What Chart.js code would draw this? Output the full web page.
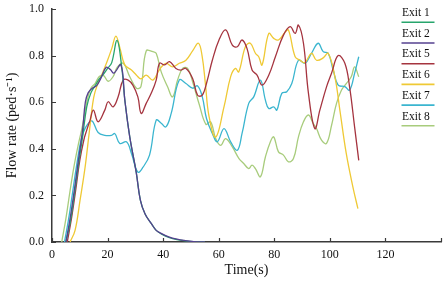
<!DOCTYPE html>
<html>
<head>
<meta charset="utf-8">
<script src="https://cdn.jsdelivr.net/npm/chart.js@4.4.0/dist/chart.umd.min.js"></script>
<style>
  body { margin: 0; background: #fff; }
  canvas { display: block; }
</style>
</head>
<body>
<canvas id="flowChart" width="447" height="283"></canvas>
<script>
// values (time in s, flow rate in ped/s)
const exitLabels = ['Exit 1', 'Exit 2', 'Exit 5', 'Exit 6', 'Exit 7', 'Exit 8'];
const exitColors = ['#27a56c', '#55408f', '#a5343f', '#efc935', '#3ab5cf', '#a8cc7c'];

const exit1T = [5, 6.5, 8, 9.5, 11, 12.5, 14, 15.5, 17, 18.5, 20, 21.5, 23.4, 25, 26.3, 28, 30.3, 31.8, 33.5, 35.7, 37.5, 39.3, 42, 45, 48, 51, 55];
const exit1V = [0, 0.08, 0.2, 0.33, 0.45, 0.58, 0.64, 0.67, 0.7, 0.72, 0.745, 0.77, 0.865, 0.76, 0.6, 0.45, 0.3, 0.18, 0.12, 0.08, 0.05, 0.035, 0.02, 0.01, 0.005, 0.002, 0];

const exit2T = [5, 6.5, 8, 9.5, 11, 12, 13, 14.5, 16, 17.5, 19.5, 21, 22.3, 24.8, 26.2, 28, 30.3, 31.8, 33.5, 35.7, 37.5, 39.3, 42, 45, 48, 51, 55];
const exit2V = [0, 0.1, 0.22, 0.35, 0.48, 0.6, 0.64, 0.66, 0.67, 0.7, 0.75, 0.74, 0.725, 0.76, 0.61, 0.45, 0.3, 0.18, 0.12, 0.08, 0.05, 0.037, 0.022, 0.012, 0.006, 0.002, 0];

const exit5T = [5.5, 7, 8.5, 10, 11.5, 12.5, 13.7, 14.9, 16.6, 19, 20.2, 22, 23.8, 25.6, 27.4, 29.1, 30.9, 32.1, 33.9, 35.7, 37.5, 38.7, 40.5, 42.3, 44.6, 46.4, 48.2, 50.6, 52.4, 54.1, 55.8, 57.7, 60.1, 62.5, 64.9, 66.7, 68.4, 70.2, 72, 73.8, 75.6, 78, 80.4, 83.3, 85.7, 87.5, 88.7, 90.5, 92.3, 94.6, 96.4, 98.8, 100.6, 103, 105.4, 107.1, 108.9, 110.4];
const exit5V = [0, 0.1, 0.22, 0.35, 0.44, 0.48, 0.523, 0.566, 0.516, 0.566, 0.602, 0.58, 0.623, 0.695, 0.695, 0.673, 0.623, 0.552, 0.595, 0.638, 0.695, 0.767, 0.76, 0.774, 0.745, 0.738, 0.745, 0.702, 0.63, 0.63, 0.69, 0.78, 0.867, 0.91, 0.845, 0.838, 0.867, 0.83, 0.738, 0.716, 0.673, 0.716, 0.795, 0.888, 0.924, 0.895, 0.931, 0.853, 0.638, 0.487, 0.566, 0.666, 0.724, 0.8, 0.767, 0.666, 0.494, 0.35];

const exit6T = [6.5, 8.3, 10.1, 11.9, 13.4, 15, 16.5, 18, 20, 21.5, 23, 24.5, 26.2, 28.6, 30.4, 32, 33.9, 36.3, 38.7, 41, 43.4, 45.8, 48.2, 50.6, 52.7, 54, 55.2, 56.5, 58.9, 61.9, 64.3, 66, 67.2, 69.6, 71.4, 73.2, 74.4, 75.6, 78, 79.8, 81.5, 83.9, 85.1, 87.5, 89.3, 91, 93.4, 95.2, 97.6, 99.4, 101.8, 103.6, 105.9, 108.3, 110.1];
const exit6V = [0, 0.05, 0.18, 0.32, 0.47, 0.62, 0.68, 0.72, 0.78, 0.83, 0.884, 0.83, 0.76, 0.738, 0.716, 0.7, 0.716, 0.695, 0.74, 0.767, 0.752, 0.767, 0.78, 0.82, 0.853, 0.8, 0.68, 0.54, 0.45, 0.58, 0.71, 0.745, 0.73, 0.838, 0.853, 0.81, 0.795, 0.76, 0.895, 0.874, 0.867, 0.9, 0.91, 0.795, 0.78, 0.77, 0.81, 0.78, 0.79, 0.81, 0.71, 0.566, 0.38, 0.236, 0.143];

const exit7T = [4.5, 6, 7.5, 9, 10.5, 12, 14.3, 16.6, 19, 21.4, 22.6, 24.4, 26.8, 28.6, 30.9, 32.7, 35.1, 37.5, 39.3, 41, 42.9, 45.8, 48.2, 50.6, 52.4, 54.1, 55.6, 57.7, 59.5, 61.9, 64.3, 66.7, 68.4, 70.8, 72.6, 75, 76.8, 78, 79.8, 80.9, 82.7, 84.5, 86.3, 88.7, 91.1, 93.4, 95.8, 97.6, 99.4, 101.2, 103, 105.4, 107.1, 108.9, 110.4];
const exit7V = [0, 0.1, 0.22, 0.34, 0.44, 0.49, 0.52, 0.47, 0.458, 0.458, 0.465, 0.423, 0.43, 0.38, 0.3, 0.32, 0.373, 0.523, 0.51, 0.494, 0.552, 0.695, 0.68, 0.66, 0.67, 0.623, 0.53, 0.466, 0.43, 0.487, 0.43, 0.394, 0.466, 0.595, 0.623, 0.695, 0.609, 0.573, 0.58, 0.566, 0.638, 0.645, 0.68, 0.78, 0.767, 0.81, 0.853, 0.817, 0.81, 0.738, 0.673, 0.667, 0.652, 0.724, 0.795];

const exit8T = [3.5, 5, 6.5, 8, 9.5, 11, 12.5, 14, 15.5, 17, 18.5, 20.2, 22, 23.5, 25.6, 28, 30.4, 32, 33.9, 36.3, 37.5, 39.3, 41.6, 43.4, 45.2, 47, 48.8, 50.6, 53, 55.4, 57.1, 58.9, 60.7, 62.5, 64.9, 67.3, 69, 70.8, 72, 73.2, 75, 76.8, 78.6, 79.8, 81.5, 83.3, 85.1, 86.9, 88.7, 90.5, 92.3, 94, 95.2, 97, 98.8, 100.6, 102.4, 104.2, 105.9, 107.7, 108.9, 110.4];
const exit8V = [0, 0.1, 0.22, 0.33, 0.42, 0.5, 0.6, 0.66, 0.68, 0.71, 0.715, 0.69, 0.71, 0.75, 0.767, 0.709, 0.66, 0.667, 0.82, 0.817, 0.81, 0.73, 0.666, 0.623, 0.695, 0.745, 0.745, 0.688, 0.59, 0.505, 0.516, 0.444, 0.415, 0.444, 0.408, 0.358, 0.337, 0.315, 0.33, 0.315, 0.28, 0.365, 0.43, 0.451, 0.387, 0.373, 0.344, 0.358, 0.451, 0.516, 0.545, 0.509, 0.487, 0.437, 0.423, 0.5, 0.595, 0.652, 0.68, 0.709, 0.752, 0.709];

const xTicks = [0, 20, 40, 60, 80, 100, 120, 140];
const yTicks = [0, 0.2, 0.4, 0.6, 0.8, 1.0];

const seriesT = [exit1T, exit2T, exit5T, exit6T, exit7T, exit8T];
const seriesV = [exit1V, exit2V, exit5V, exit6V, exit7V, exit8V];
// Exit 2 sits on top of Exit 1 where they share the decay
const drawOrder = [1, 0, 2, 3, 4, 5];

const serif = "'Liberation Serif', 'Times New Roman', serif";
const axisColor = '#3a3a3a';

function toPoints(ts, vs) {
  return ts.map((t, i) => ({ x: t, y: vs[i] }));
}

// little tick marks pointing into the plot, like the original
const innerTicks = {
  id: 'innerTicks',
  afterDraw(chart) {
    const { ctx, scales: { x, y } } = chart;
    ctx.save();
    ctx.strokeStyle = axisColor;
    ctx.lineWidth = 1.2;
    ctx.beginPath();
    xTicks.forEach(v => {
      const px = Math.round(x.getPixelForValue(v)) + 0.5;
      ctx.moveTo(px, y.bottom);
      ctx.lineTo(px, y.bottom - 4);
    });
    yTicks.forEach(v => {
      const py = Math.round(y.getPixelForValue(v)) + 0.5;
      ctx.moveTo(x.left, py);
      ctx.lineTo(x.left + 4, py);
    });
    ctx.stroke();
    ctx.restore();
  }
};

// legend on the right: label with a coloured line under it
const sideLegend = {
  id: 'sideLegend',
  afterDraw(chart) {
    const ctx = chart.ctx;
    ctx.save();
    ctx.font = '11.5px ' + serif;
    ctx.textBaseline = 'middle';
    ctx.textAlign = 'left';
    chart.data.datasets.forEach((ds, i) => {
      const top = 13 + i * 20.7;
      ctx.fillStyle = '#111';
      ctx.fillText(ds.label, 402, top);
      ctx.strokeStyle = ds.borderColor;
      ctx.lineWidth = 1.6;
      ctx.beginPath();
      ctx.moveTo(401.5, top + 9.3);
      ctx.lineTo(434.5, top + 9.3);
      ctx.stroke();
    });
    ctx.restore();
  }
};

const datasets = exitLabels.map((label, i) => ({
  label: label,
  data: toPoints(seriesT[i], seriesV[i]),
  borderColor: exitColors[i],
  backgroundColor: exitColors[i],
  borderWidth: 1.3,
  pointRadius: 0,
  tension: 0.4,
  fill: false,
  order: drawOrder[i]
}));

new Chart(document.getElementById('flowChart'), {
  type: 'line',
  data: { datasets: datasets },
  options: {
    responsive: false,
    animation: false,
    layout: { padding: { top: 9, right: 5, left: 0, bottom: 0 } },
    plugins: {
      legend: { display: false },
      tooltip: { enabled: false }
    },
    scales: {
      x: {
        type: 'linear',
        min: 0,
        max: 140,
        afterFit: scale => { scale.height = 41; },
        afterBuildTicks: scale => { scale.ticks = xTicks.map(v => ({ value: v })); },
        grid: { display: false, drawTicks: false },
        border: { display: true, color: axisColor, width: 1.5 },
        ticks: {
          padding: 6,
          color: '#111',
          font: { family: serif, size: 12 },
          callback: v => (v === 140 ? '' : v)
        },
        title: {
          display: true,
          text: 'Time(s)',
          color: '#111',
          font: { family: serif, size: 14 },
          padding: { top: 0, bottom: 4 }
        }
      },
      y: {
        min: 0,
        max: 1,
        afterFit: scale => {
          scale.width = 52;
          scale.paddingTop = 0;
          scale.paddingBottom = 0;
        },
        afterBuildTicks: scale => { scale.ticks = yTicks.map(v => ({ value: v })); },
        grid: { display: false, drawTicks: false },
        border: { display: true, color: axisColor, width: 1.5 },
        ticks: {
          padding: 8,
          color: '#111',
          font: { family: serif, size: 12 },
          callback: v => v.toFixed(1)
        },
        title: {
          display: true,
          text: 'Flow rate (ped·s⁻¹)',
          color: '#111',
          font: { family: serif, size: 14 },
          padding: { top: 4, bottom: 0 }
        }
      }
    }
  },
  plugins: [innerTicks, sideLegend]
});
</script>
</body>
</html>
